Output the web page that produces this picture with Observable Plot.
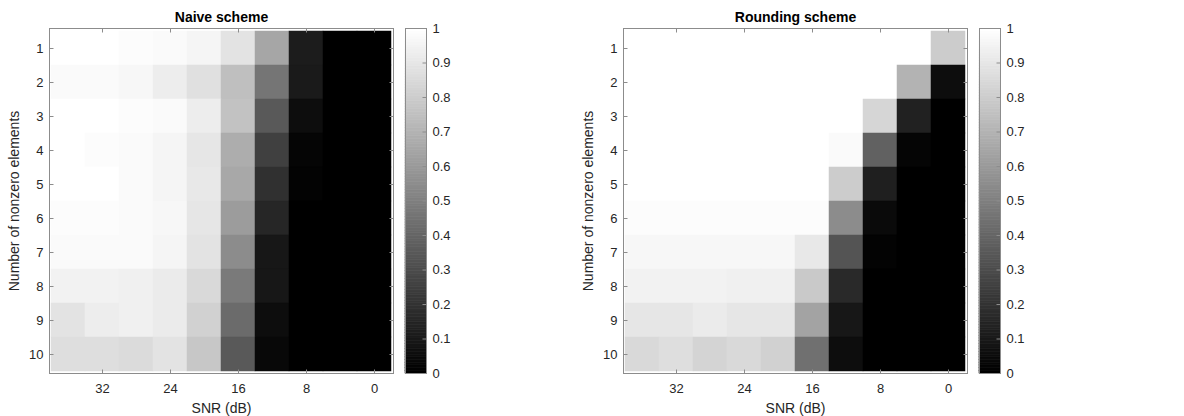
<!DOCTYPE html>
<html><head><meta charset="utf-8">
<script src="https://cdn.jsdelivr.net/npm/d3@7"></script>
<script src="https://cdn.jsdelivr.net/npm/@observablehq/plot@0.6"></script>
<style>
body{margin:0;background:#fff;}
#wrap{position:relative;width:1184px;height:416px;overflow:hidden;background:#fff;}
#wrap svg{position:absolute;top:0;}
</style></head>
<body><div id="wrap"></div>
<script>
const snr = [36, 32, 28, 24, 20, 16, 12, 8, 4, 0];
const nnz = [1, 2, 3, 4, 5, 6, 7, 8, 9, 10];
const snrTicks = [32, 24, 16, 8, 0];
const colorTicks = [0, 0.1, 0.2, 0.3, 0.4, 0.5, 0.6, 0.7, 0.8, 0.9, 1];
const titles = ["Naive scheme", "Rounding scheme"];

// rows: number of nonzero elements 1..10; columns: SNR 36..0 dB
const naive = [
  [1.00, 1.00, 0.99, 0.98, 0.96, 0.89, 0.65, 0.11, 0.00, 0.00],
  [0.98, 0.98, 0.97, 0.93, 0.88, 0.75, 0.46, 0.10, 0.00, 0.00],
  [1.00, 1.00, 0.99, 0.98, 0.93, 0.76, 0.35, 0.05, 0.00, 0.00],
  [1.00, 0.99, 0.98, 0.96, 0.90, 0.68, 0.25, 0.02, 0.00, 0.00],
  [1.00, 1.00, 0.98, 0.96, 0.91, 0.66, 0.19, 0.01, 0.00, 0.00],
  [0.99, 0.99, 0.98, 0.97, 0.90, 0.61, 0.15, 0.00, 0.00, 0.00],
  [0.98, 0.98, 0.98, 0.96, 0.89, 0.55, 0.09, 0.00, 0.00, 0.00],
  [0.95, 0.95, 0.94, 0.92, 0.85, 0.48, 0.09, 0.00, 0.00, 0.00],
  [0.89, 0.93, 0.94, 0.92, 0.82, 0.42, 0.05, 0.00, 0.00, 0.00],
  [0.87, 0.87, 0.86, 0.89, 0.78, 0.35, 0.03, 0.00, 0.00, 0.00]
];
const rounding = [
  [1.00, 1.00, 1.00, 1.00, 1.00, 1.00, 1.00, 1.00, 1.00, 0.80],
  [1.00, 1.00, 1.00, 1.00, 1.00, 1.00, 1.00, 1.00, 0.70, 0.05],
  [1.00, 1.00, 1.00, 1.00, 1.00, 1.00, 1.00, 0.84, 0.13, 0.00],
  [1.00, 1.00, 1.00, 1.00, 1.00, 1.00, 0.98, 0.38, 0.02, 0.00],
  [1.00, 1.00, 1.00, 1.00, 1.00, 1.00, 0.80, 0.12, 0.00, 0.00],
  [0.99, 0.99, 0.99, 0.99, 0.99, 0.99, 0.55, 0.04, 0.00, 0.00],
  [0.97, 0.97, 0.97, 0.97, 0.97, 0.91, 0.33, 0.01, 0.00, 0.00],
  [0.95, 0.95, 0.95, 0.94, 0.94, 0.79, 0.16, 0.00, 0.00, 0.00],
  [0.90, 0.90, 0.92, 0.90, 0.90, 0.64, 0.09, 0.00, 0.00, 0.00],
  [0.85, 0.87, 0.83, 0.85, 0.82, 0.44, 0.05, 0.00, 0.00, 0.00]
];

const FONT = '"Liberation Sans", Arial, Helvetica, sans-serif';
const INK = "#262626";
const BOX = "#8c8c8c";
const colorScale = {type: "linear", domain: [0, 1], range: ["#000000", "#ffffff"], interpolate: "rgb"};
const tickShape = {draw(ctx, l) { ctx.moveTo(0, 0); ctx.lineTo(0, -l); }};
const tickStyle = {length: 4, anchor: "start", shape: tickShape, stroke: BOX, strokeWidth: 1, strokeLinecap: "butt"};

function heatmap(title, grid) {
  const data = [];
  nnz.forEach((k, i) => snr.forEach((s, j) => data.push({k, s, v: grid[i][j]})));
  return Plot.plot({
    width: 49 + 344 + 3, height: 416,
    marginLeft: 49, marginRight: 3, marginTop: 28, marginBottom: 43,
    style: {fontFamily: FONT, fontSize: "13px", color: INK, background: "transparent", overflow: "visible"},
    x: {type: "band", domain: snr, padding: 0},
    y: {type: "band", domain: nnz, padding: 0},
    color: colorScale,
    marks: [
      Plot.cell(data, {x: "s", y: "k", fill: "v", stroke: "v", strokeWidth: 0.5, inset: 0}),
      Plot.frame({stroke: BOX}),
      Plot.axisX(snrTicks, {anchor: "bottom", tickSize: 0, tickPadding: 10, fontSize: 13, label: null}),
      Plot.axisY(nnz, {anchor: "left", tickSize: 0, tickPadding: 6, fontSize: 13, label: null}),
      Plot.axisX({anchor: "bottom", ticks: [], tickSize: 0, label: "SNR (dB)", labelAnchor: "center", labelOffset: 39, labelArrow: "none", fontSize: 14}),
      Plot.axisY({anchor: "left", ticks: [], tickSize: 0, label: "Number of nonzero elements", labelAnchor: "center", labelOffset: 40, labelArrow: "none", fontSize: 14}),
      Plot.vector(snrTicks, {x: d => d, frameAnchor: "bottom", rotate: 0, ...tickStyle}),
      Plot.vector(snrTicks, {x: d => d, frameAnchor: "top", rotate: 180, ...tickStyle}),
      Plot.vector(nnz, {y: d => d, frameAnchor: "left", rotate: 90, ...tickStyle}),
      Plot.vector(nnz, {y: d => d, frameAnchor: "right", rotate: -90, ...tickStyle}),
      Plot.text([title], {text: d => d, frameAnchor: "top", lineAnchor: "middle", dy: -11, fontWeight: "bold", fontSize: 14, fill: "#000"})
    ]
  });
}

function colorbar() {
  const n = 128;
  const levels = d3.range(n).map(i => ({y1: i / n, y2: (i + 1) / n, v: i / (n - 1)}));
  return Plot.plot({
    width: 60, height: 416,
    marginLeft: 1, marginRight: 38, marginTop: 28, marginBottom: 43,
    style: {fontFamily: FONT, fontSize: "13px", color: INK, background: "transparent", overflow: "visible"},
    x: {axis: null},
    y: {domain: [0, 1], axis: null},
    color: colorScale,
    marks: [
      Plot.rect(levels, {y1: "y1", y2: "y2", fill: "v", stroke: "v", strokeWidth: 0.6}),
      Plot.frame({stroke: BOX}),
      Plot.axisY(colorTicks, {anchor: "right", tickSize: 0, tickPadding: 6, label: null, fontSize: 13, tickFormat: d => String(d)}),
      Plot.vector(colorTicks, {y: d => d, frameAnchor: "right", rotate: -90, ...tickStyle})
    ]
  });
}

const wrap = document.getElementById("wrap");
const parts = [
  [heatmap(titles[0], naive), 0],
  [colorbar(), 404],
  [heatmap(titles[1], rounding), 574],
  [colorbar(), 978]
];
for (const [svg, left] of parts) {
  svg.style.left = left + "px";
  wrap.appendChild(svg);
}
</script>
</body></html>
